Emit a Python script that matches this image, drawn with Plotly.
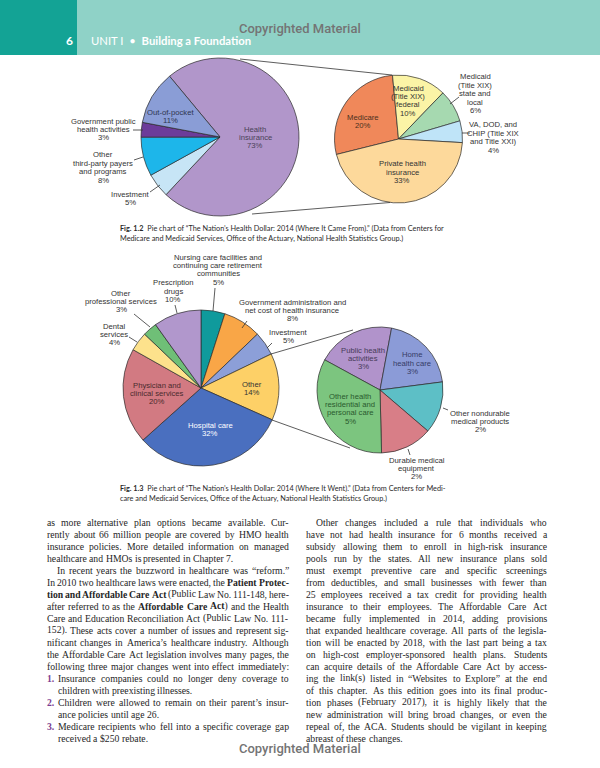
import plotly.graph_objects as go

W, H = 600, 768

# ------------------------------------------------------------------ data
came_labels = ["Health insurance", "Investment", "Other third-party payers and programs",
               "Government public health activities", "Out-of-pocket"]
came_values = [73, 5, 8, 3, 11]
came_colors = ["#b196ca", "#c7e5f6", "#1db6ea", "#6c3c9a", "#8a9dd6"]

ins_labels = ["Medicare", "Medicaid (Title XIX) federal", "Medicaid (Title XIX) state and local",
              "VA, DOD, and CHIP (Title XIX and Title XXI)", "Private health insurance"]
ins_values = [20, 10, 6, 4, 33]
ins_colors = ["#f0885a", "#fbf4a6", "#a6d9b0", "#bfe4f8", "#fdd99b"]

went_labels = ["Nursing care facilities and continuing care retirement communities",
               "Government administration and net cost of health insurance", "Investment",
               "Other", "Hospital care", "Physician and clinical services", "Dental services",
               "Other professional services", "Prescription drugs"]
went_values = [5, 8, 5, 14, 32, 20, 4, 3, 10]
went_colors = ["#0f9a9c", "#f9a647", "#8c9fd8", "#fdd067", "#4a6fbf", "#d27a82",
               "#fde28c", "#6fbf77", "#b197cc"]

other_labels = ["Public health activities", "Home health care", "Other nondurable medical products",
                "Durable medical equipment", "Other health residential and personal care"]
other_values = [3, 3, 2, 2, 5]
other_colors = ["#b193cb", "#8b9bd7", "#5dbfc6", "#d87e87", "#7cc57f"]

caption_12 = ["<b>Fig. 1.2</b>  Pie chart of “The Nation’s Health Dollar: 2014 (Where It Came From).” (Data from Centers for",
              "Medicare and Medicaid Services, Office of the Actuary, National Health Statistics Group.)"]
caption_13 = ["<b>Fig. 1.3</b>  Pie chart of “The Nation’s Health Dollar: 2014 (Where It Went).” (Data from Centers for Medi-",
              "care and Medicaid Services, Office of the Actuary, National Health Statistics Group.)"]

# body text: (marker, text, justify, indent)
left_col = [
    ("", "as more alternative plan options became available. Cur-", True, 0),
    ("", "rently about 66 million people are covered by HMO health", True, 0),
    ("", "insurance policies. More detailed information on managed", True, 0),
    ("", "healthcare and HMOs is presented in Chapter 7.", False, 0),
    ("", "In recent years the buzzword in healthcare was “reform.”", True, 10),
    ("", "In 2010 two healthcare laws were enacted, the <b>Patient Protec-</b>", True, 0),
    ("", "<b>tion and Affordable Care Act</b> (Public Law No. 111-148, here-", True, 0),
    ("", "after referred to as the <b>Affordable Care Act</b>) and the Health", True, 0),
    ("", "Care and Education Reconciliation Act (Public Law No. 111-", True, 0),
    ("", "152). These acts cover a number of issues and represent sig-", True, 0),
    ("", "nificant changes in America’s healthcare industry. Although", True, 0),
    ("", "the Affordable Care Act legislation involves many pages, the", True, 0),
    ("", "following three major changes went into effect immediately:", True, 0),
    ("1.", "Insurance companies could no longer deny coverage to", True, 11),
    ("", "children with preexisting illnesses.", False, 11),
    ("2.", "Children were allowed to remain on their parent’s insur-", True, 11),
    ("", "ance policies until age 26.", False, 11),
    ("3.", "Medicare recipients who fell into a specific coverage gap", True, 11),
    ("", "received a $250 rebate.", False, 11),
]
right_col = [
    ("", "Other changes included a rule that individuals who", True, 10),
    ("", "have not had health insurance for 6 months received a", True, 0),
    ("", "subsidy allowing them to enroll in high-risk insurance", True, 0),
    ("", "pools run by the states. All new insurance plans sold", True, 0),
    ("", "must exempt preventive care and specific screenings", True, 0),
    ("", "from deductibles, and small businesses with fewer than", True, 0),
    ("", "25 employees received a tax credit for providing health", True, 0),
    ("", "insurance to their employees. The Affordable Care Act", True, 0),
    ("", "became fully implemented in 2014, adding provisions", True, 0),
    ("", "that expanded healthcare coverage. All parts of the legisla-", True, 0),
    ("", "tion will be enacted by 2018, with the last part being a tax", True, 0),
    ("", "on high-cost employer-sponsored health plans. Students", True, 0),
    ("", "can acquire details of the Affordable Care Act by access-", True, 0),
    ("", "ing the link(s) listed in “Websites to Explore” at the end", True, 0),
    ("", "of this chapter. As this edition goes into its final produc-", True, 0),
    ("", "tion phases (February 2017), it is highly likely that the", True, 0),
    ("", "new administration will bring broad changes, or even the", True, 0),
    ("", "repeal of, the ACA. Students should be vigilant in keeping", True, 0),
    ("", "abreast of these changes.", False, 0),
]

# ------------------------------------------------------------------ helpers
def px(x):
    return x / W


def py(y):
    return 1 - y / H


annotations = []
shapes = []

LBL_FONT = "Liberation Sans"
LBL_COL = "#333333"


def label(x, y_first, lines, size=7.7, lead=8.4, color=LBL_COL, font=LBL_FONT):
    for i, t in enumerate(lines):
        annotations.append(dict(
            x=px(x), y=py(y_first + i * lead), xref="paper", yref="paper",
            text=t, showarrow=False, xanchor="center", yanchor="middle",
            font=dict(family=font, size=size, color=color),
            borderpad=0, borderwidth=0))


def line(x0, y0, x1, y1, width=0.8, color="#333333"):
    shapes.append(dict(type="line", xref="paper", yref="paper",
                       x0=px(x0), y0=py(y0), x1=px(x1), y1=py(y1),
                       line=dict(color=color, width=width)))


def pie(labels, values, colors, cx, cy, r, rotation):
    return go.Pie(labels=labels, values=values, sort=False, direction="clockwise",
                  rotation=rotation, textinfo="none", hoverinfo="skip",
                  marker=dict(colors=colors, line=dict(color="#2b2b2b", width=0.7)),
                  domain=dict(x=[px(cx - r), px(cx + r)], y=[py(cy + r), py(cy - r)]),
                  showlegend=False)


# ------------------------------------------------------------------ header / footer
shapes.append(dict(type="rect", xref="paper", yref="paper", x0=0, x1=1, y0=py(55), y1=1,
                   fillcolor="#8fd2c7", line=dict(width=0), layer="below"))
shapes.append(dict(type="rect", xref="paper", yref="paper", x0=0, x1=px(77), y0=py(55), y1=1,
                   fillcolor="#13a395", line=dict(width=0), layer="below"))
annotations.append(dict(x=px(69), y=py(40), xref="paper", yref="paper", text="<b>6</b>",
                        showarrow=False, xanchor="center", yanchor="middle",
                        font=dict(family="Lato", size=12, color="white")))
annotations.append(dict(x=px(89), y=py(40), xref="paper", yref="paper",
                        text="UNIT I  •  <b>Building a Foundation</b>",
                        showarrow=False, xanchor="left", yanchor="middle",
                        font=dict(family="Lato", size=11.3, color="white")))
for yy in (29, 748):
    annotations.append(dict(x=px(300), y=py(yy), xref="paper", yref="paper",
                            text="Copyrighted Material", showarrow=False,
                            xanchor="center", yanchor="middle",
                            font=dict(family="Roboto", size=13, color="#747474", weight=500)))

# ------------------------------------------------------------------ pies
traces = [
    pie(came_labels, came_values, came_colors, 220, 137, 79, -39.7),
    pie(ins_labels, ins_values, ins_colors, 398.5, 139, 64, -104),
    pie(went_labels, went_values, went_colors, 201, 388, 78, 0),
    pie(other_labels, other_values, other_colors, 380, 390, 63, -61.4),
]

# connectors
line(240, 59, 392, 75)
line(252, 214, 390, 202.5)
line(271, 354, 353, 330)
line(272, 420, 350, 448)

# Fig 1.2 labels
label(255, 129, ["Health", "insurance", "73%"], color="#4a4258")
label(170, 112, ["Out-of-pocket", "11%"], color="#2f3550")
label(103, 121, ["Government public", "health activities", "3%"])
line(133, 130, 143, 130)
label(103, 155, ["Other", "third-party payers", "and programs", "8%"])
line(134, 160, 143, 157)
label(130, 194, ["Investment", "5%"])
line(150, 192, 160, 185)

label(363, 117, ["Medicare", "20%"], color="#4a3020")
label(408, 88, ["Medicaid", "(Title XIX)", "federal", "10%"])
label(475, 77, ["Medicaid", "(Title XIX)", "state and", "local", "6%"])
line(459, 97, 450, 104)
label(493, 125, ["VA, DOD, and", "CHIP (Title XIX", "and Title XXI)", "4%"])
line(462, 133, 470, 133)
label(402, 164, ["Private health", "insurance", "33%"])

# Fig 1.3 labels
label(218, 257, ["Nursing care facilities and", "continuing care retirement", "communities", "5%"])
line(215, 288, 213, 311)
label(173, 283, ["Prescription", "drugs", "10%"])
line(175, 305, 177, 313)
label(121, 293, ["Other", "professional services", "3%"])
line(134, 314, 150, 327)
label(114, 326, ["Dental", "services", "4%"])
line(129, 337, 137, 342)
label(292, 302, ["Government administration and", "net cost of health insurance", "8%"])
line(247, 321, 242, 328)
label(288, 332, ["Investment", "5%"])
line(272, 343, 267, 348)
label(252, 384, ["Other", "14%"])
label(210, 425, ["Hospital care", "32%"], color="white")
label(157, 385, ["Physician and", "clinical services", "20%"], color="#4a2a2e")

label(363, 350, ["Public health", "activities", "3%"], color="#463a58")
label(412, 355, ["Home", "health care", "3%"], color="#363c66")
label(350, 396, ["Other health", "residential and", "personal care", "5%"], color="#2a5a2e")
label(480, 413, ["Other nondurable", "medical products", "2%"])
line(448, 410, 443, 408)
label(417, 460, ["Durable medical", "equipment", "2%"])
line(410, 455, 408, 449)

# captions
for i, t in enumerate(caption_12):
    annotations.append(dict(x=px(120), y=py(228 + i * 10.5), xref="paper", yref="paper",
                            text=t, showarrow=False, xanchor="left", yanchor="middle",
                            font=dict(family="Lato", size=7.3, color="#2a2a2a"),
                            borderpad=0, borderwidth=0))
for i, t in enumerate(caption_13):
    annotations.append(dict(x=px(120), y=py(488 + i * 10.5), xref="paper", yref="paper",
                            text=t, showarrow=False, xanchor="left", yanchor="middle",
                            font=dict(family="Lato", size=7.3, color="#2a2a2a"),
                            borderpad=0, borderwidth=0))

# ------------------------------------------------------------------ body text (justified)
TNR = {' ': 250, '!': 333, '"': 408, '$': 500, '%': 833, '&': 778, "'": 180, '(': 333, ')': 333,
       ',': 250, '-': 333, '.': 250, '/': 278, ':': 278, ';': 278, '?': 444,
       '“': 444, '”': 444, '’': 333, '‘': 333,
       'a': 444, 'b': 500, 'c': 444, 'd': 500, 'e': 444, 'f': 333, 'g': 500, 'h': 500, 'i': 278,
       'j': 278, 'k': 500, 'l': 278, 'm': 778, 'n': 500, 'o': 500, 'p': 500, 'q': 500, 'r': 333,
       's': 389, 't': 278, 'u': 500, 'v': 500, 'w': 722, 'x': 500, 'y': 500, 'z': 444,
       'A': 722, 'B': 667, 'C': 667, 'D': 722, 'E': 611, 'F': 556, 'G': 722, 'H': 722, 'I': 333,
       'J': 389, 'K': 722, 'L': 611, 'M': 889, 'N': 722, 'O': 722, 'P': 556, 'Q': 722, 'R': 667,
       'S': 556, 'T': 611, 'U': 722, 'V': 722, 'W': 944, 'X': 722, 'Y': 722, 'Z': 611}
TNRB = dict(TNR)
TNRB.update({'a': 500, 'b': 556, 'd': 556, 'h': 556, 'j': 333, 'k': 556, 'm': 833, 'n': 556,
             'p': 556, 'q': 556, 'r': 444, 't': 333, 'u': 556, 'A': 722, 'C': 722, 'P': 611})


def parse(text):
    words, bold = [], False
    for w in text.split(" "):
        segs, buf, i = [], "", 0
        while i < len(w):
            if w.startswith("<b>", i):
                if buf:
                    segs.append((buf, bold))
                buf, bold, i = "", True, i + 3
            elif w.startswith("</b>", i):
                if buf:
                    segs.append((buf, bold))
                buf, bold, i = "", False, i + 4
            else:
                buf += w[i]
                i += 1
        if buf:
            segs.append((buf, bold))
        words.append(segs)
    return words


def wwidth(segs):
    return sum((TNRB if b else TNR).get(c, 500) for t, b in segs for c in t) / 1000.0


BODY_FONT = "Liberation Serif"
BODY_COL = "#262626"
NUM_COL = "#7b3d92"
COLS = [(47, 289, left_col), (306, 547, right_col)]
Y0, LEAD = 522, 12.0

# choose body font size so that no justified line gets cramped
fs = 10.4
while True:
    ok = True
    for x0, x1, col in COLS:
        for mark, text, just, ind in col:
            ws = parse(text)
            need = sum(wwidth(s) for s in ws) * fs + (len(ws) - 1) * 0.17 * fs
            if just and need > (x1 - x0 - ind):
                ok = False
    if ok or fs < 8:
        break
    fs -= 0.1

for x0, x1, col in COLS:
    for li, (mark, text, just, ind) in enumerate(col):
        y = Y0 + li * LEAD
        if mark:
            annotations.append(dict(x=px(x0), y=py(y), xref="paper", yref="paper",
                                    text="<b>" + mark + "</b>", showarrow=False,
                                    xanchor="left", yanchor="middle", borderpad=0, borderwidth=0,
                                    font=dict(family=BODY_FONT, size=fs, color=NUM_COL)))
        ws = parse(text)
        widths = [wwidth(s) * fs for s in ws]
        start = x0 + ind
        if just and len(ws) > 1:
            gap = (x1 - start - sum(widths)) / (len(ws) - 1)
        else:
            gap = 0.25 * fs
        x = start
        for segs, wd in zip(ws, widths):
            html = "".join("<b>%s</b>" % t if b else t for t, b in segs)
            annotations.append(dict(x=px(x), y=py(y), xref="paper", yref="paper",
                                    text=html, showarrow=False, xanchor="left",
                                    yanchor="middle", borderpad=0, borderwidth=0,
                                    font=dict(family=BODY_FONT, size=fs, color=BODY_COL)))
            x += wd + gap

# ------------------------------------------------------------------ figure
fig = go.Figure(data=traces)
fig.update_layout(width=W, height=H, margin=dict(l=0, r=0, t=0, b=0),
                  paper_bgcolor="white", plot_bgcolor="white",
                  annotations=annotations, shapes=shapes, showlegend=False)
fig.write_html("out.html")
